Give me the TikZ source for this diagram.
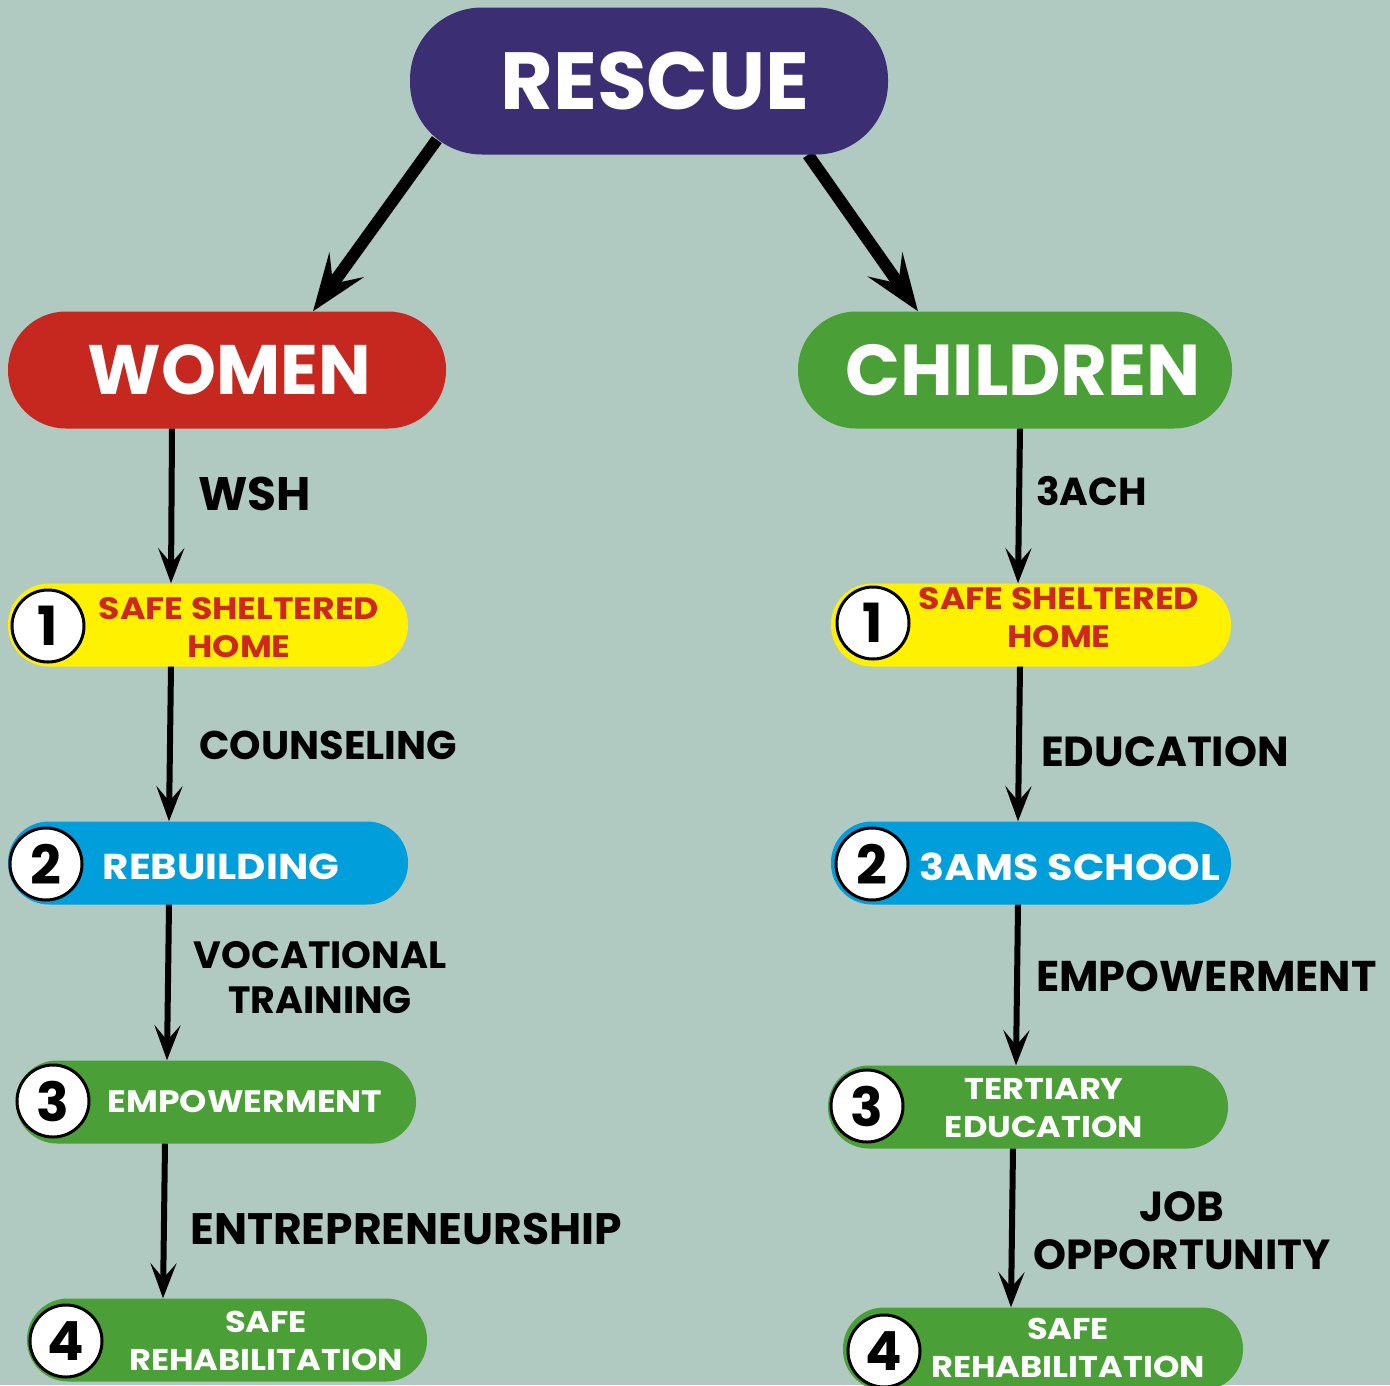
\documentclass[tikz,border=0pt]{standalone}
\usepackage{fontspec}
\setmainfont{Poppins}
\newfontfamily\widefam{Poppins}[FakeStretch=1.12]
\usetikzlibrary{arrows.meta,positioning}

\definecolor{sage}{RGB}{176,202,193}
\definecolor{rescuepurple}{RGB}{60,46,114}
\definecolor{womenred}{RGB}{198,39,31}
\definecolor{kidgreen}{RGB}{74,160,55}
\definecolor{homeyellow}{RGB}{255,241,0}
\definecolor{schoolblue}{RGB}{0,159,219}
\definecolor{hometext}{RGB}{206,40,30}

\newcommand\titlefont{\fontsize{81}{84}\selectfont\bfseries}
\newcommand\headfont[1]{\fontsize{#1}{74}\selectfont\bfseries}
\newcommand\stepfont[1]{\widefam\fontsize{#1}{38}\selectfont\bfseries}
\newcommand\labelfont[2]{\fontsize{#1}{#2}\selectfont\bfseries}
\newcommand\numfont{\fontsize{54}{56}\selectfont\bfseries}

\pgfdeclarelayer{back}
\pgfsetlayers{back,main}

\tikzset{
  pill/.style={rectangle,rounded corners=41pt,minimum height=83pt,
    minimum width=400pt,inner sep=0pt},
  head/.style={rectangle,rounded corners=58pt,minimum height=117pt,
    text=white,inner sep=0pt},
  num/.style={circle,draw=black,line width=3pt,fill=white,
    minimum size=72pt,inner sep=0pt,font=\numfont},
  steptext/.style={text=white,align=center,inner sep=0pt},
  flowlabel/.style={align=center,inner sep=0pt},
  bigarrow/.style={line width=12pt,
    -{Stealth[length=57pt,width=42pt,inset=23pt]}},
  flow/.style={line width=6pt,
    -{Stealth[length=35pt,width=26pt,inset=15pt]}}
}

\begin{document}
\begin{tikzpicture}[x=1pt,y=-1pt]

  \begin{pgfonlayer}{back}
    \fill[sage] (0,0) rectangle (1390,1385);
  \end{pgfonlayer}
  \useasboundingbox (0,0) rectangle (1390,1385);

  % top level
  \node[head,fill=rescuepurple,minimum width=478pt,minimum height=147pt,
        rounded corners=72pt,font=\titlefont] (rescue) at (649,81) {\hspace*{12pt}RESCUE};
  \node[head,fill=womenred,minimum width=438pt,font={\headfont{70}}]
        (women) at (227,370) {\hspace*{5pt}WOMEN};
  \node[head,fill=kidgreen,minimum width=434pt,font={\headfont{72}}]
        (children) at (1015,370) {\hspace*{16pt}CHILDREN};

  % women column
  \node[pill,fill=homeyellow]  (wbox1) at (208,625)  {};
  \node[pill,fill=schoolblue]  (wbox2) at (208,863)  {};
  \node[pill,fill=kidgreen]    (wbox3) at (216,1102) {};
  \node[pill,fill=kidgreen]    (wbox4) at (227,1340) {};

  \node[num] (wnum1) at (48,626)  {1};
  \node[num] (wnum2) at (46,864)  {2};
  \node[num] (wnum3) at (53,1101) {3};
  \node[num] (wnum4) at (66,1341) {4};

  \node[steptext,text=hometext,font={\stepfont{31}}] (wtxt1) at (239,628)  {SAFE SHELTERED\\HOME};
  \node[steptext,font={\stepfont{36}}] (wtxt2) at (221,867)  {REBUILDING};
  \node[steptext,font={\stepfont{31}}] (wtxt3) at (245,1102) {EMPOWERMENT};
  \node[steptext,font={\stepfont{30}}] (wtxt4) at (266,1341) {SAFE\\REHABILITATION};

  % children column
  \node[pill,fill=homeyellow]  (cbox1) at (1031,625)  {};
  \node[pill,fill=schoolblue]  (cbox2) at (1031,863)  {};
  \node[pill,fill=kidgreen]    (cbox3) at (1028,1107) {};
  \node[pill,fill=kidgreen]    (cbox4) at (1043,1349) {};

  \node[num] (cnum1) at (873,623)  {1};
  \node[num] (cnum2) at (872,864)  {2};
  \node[num] (cnum3) at (867,1106) {3};
  \node[num] (cnum4) at (884,1351) {4};

  \node[steptext,text=hometext,font={\stepfont{31}}] (ctxt1) at (1059,618)  {SAFE SHELTERED\\HOME};
  \node[steptext,font={\stepfont{37}}] (ctxt2) at (1070,867)  {3AMS SCHOOL};
  \node[steptext,font={\stepfont{30}}] (ctxt3) at (1044,1108) {TERTIARY\\EDUCATION};
  \node[steptext,font={\stepfont{30}}] (ctxt4) at (1068,1348) {SAFE\\REHABILITATION};

  % labels
  \node[flowlabel,anchor=west,font={\labelfont{47}{50}}] (wsh)   at (198,494)  {WSH};
  \node[flowlabel,anchor=west,font={\labelfont{40}{46}}] (couns) at (199,745)  {COUNSELING};
  \node[flowlabel,font={\labelfont{38}{45}}]             (voc)   at (320,978)  {VOCATIONAL\\TRAINING};
  \node[flowlabel,anchor=west,font={\labelfont{44}{46}}] (entre) at (190,1229) {ENTREPRENEURSHIP};
  \node[flowlabel,anchor=west,font={\labelfont{39}{46}}] (ach)   at (1036,491) {3ACH};
  \node[flowlabel,anchor=west,font={\labelfont{42}{46}}] (educ)  at (1041,752) {EDUCATION};
  \node[flowlabel,anchor=west,font={\labelfont{43}{46}}] (empow) at (1036,976) {EMPOWERMENT};
  \node[flowlabel,font={\labelfont{42}{48}}]             (job)   at (1182,1231) {JOB\\OPPORTUNITY};

  % arrows
  \begin{pgfonlayer}{back}
    \draw[bigarrow] ([shift={(27,-15)}]rescue.south west) -- ([xshift=86pt]women.north);
    \draw[bigarrow] ([xshift=159pt]rescue.south) -- ([xshift=-97pt]children.north);
  \end{pgfonlayer}

  \draw[flow] ([xshift=-55pt]women.south) -- ([xshift=-37pt]wbox1.north);
  \draw[flow] ([xshift=-37pt]wbox1.south) -- ([xshift=-39pt]wbox2.north);
  \draw[flow] ([xshift=-39pt]wbox2.south) -- ([xshift=-49pt]wbox3.north);
  \draw[flow] ([xshift=-51pt]wbox3.south) -- ([xshift=-64pt]wbox4.north);

  \draw[flow] ([xshift=5pt]children.south) -- ([xshift=-13pt]cbox1.north);
  \draw[flow] ([xshift=-11pt]cbox1.south)  -- ([xshift=-13pt]cbox2.north);
  \draw[flow] ([xshift=-13pt]cbox2.south)  -- ([xshift=-12pt]cbox3.north);
  \draw[flow] ([xshift=-15pt]cbox3.south)  -- ([xshift=-32pt]cbox4.north);

\end{tikzpicture}
\end{document}
